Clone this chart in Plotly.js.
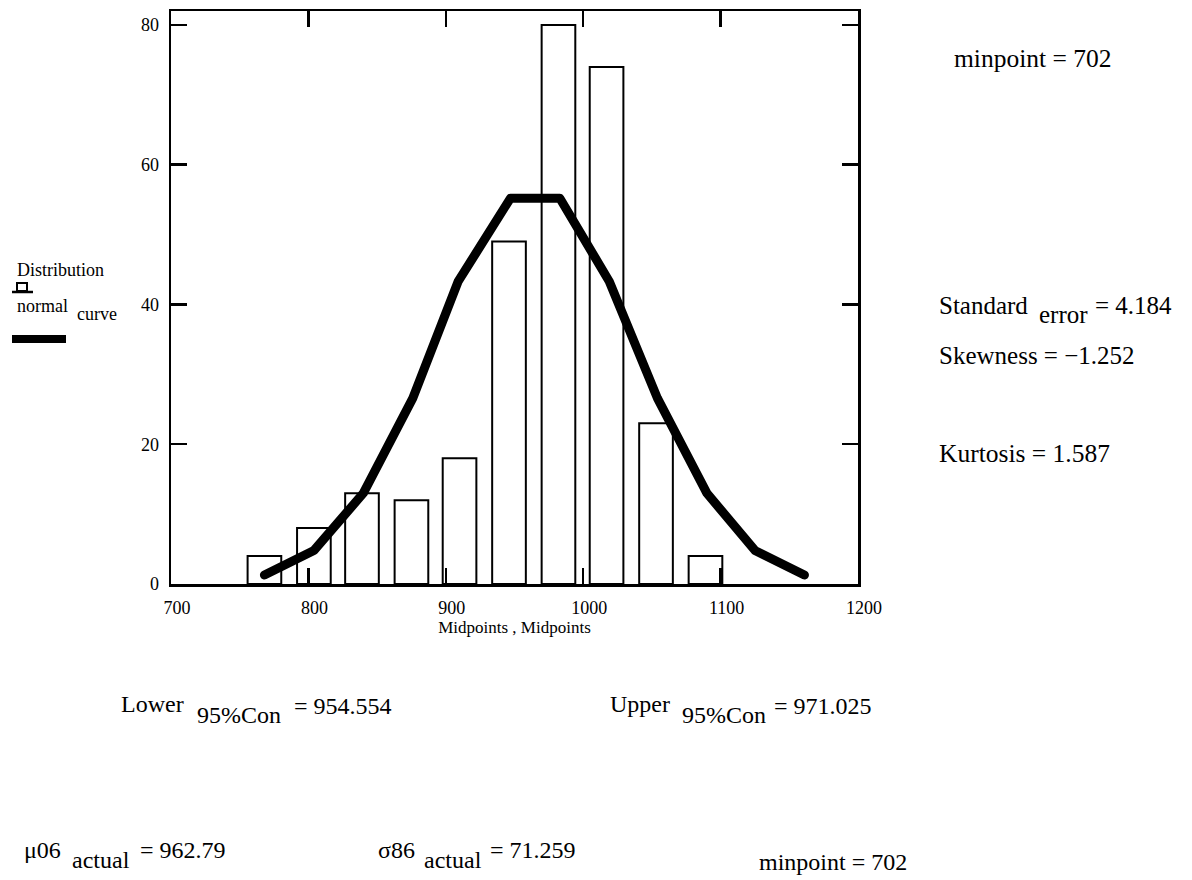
<!DOCTYPE html>
<html>
<head>
<meta charset="utf-8">
<script src="https://cdn.plot.ly/plotly-3.0.1.min.js"></script>
<style>
  html, body { margin: 0; padding: 0; background: #fff; }
  #chart { width: 1192px; height: 880px; }
  .scatterlayer .js-line { stroke-linecap: round; stroke-linejoin: round; }
</style>
</head>
<body>
<div id="chart"></div>
<script>
// Histogram of the measurements: bin midpoints and counts
const binMid   = [768, 804, 839, 875, 910, 946, 982, 1017, 1053, 1089];
const binCount = [4, 8, 13, 12, 18, 49, 80, 74, 23, 4];

// Fitted normal curve evaluated at the midpoints
const curveX = [768, 804, 840, 876, 909, 947, 983, 1019, 1054, 1090, 1125, 1161];
const curveY = [1.3, 4.8, 13, 26.6, 43.3, 55.2, 55.2, 43.3, 26.6, 13, 4.8, 1.3];

// Axis ticks
const xTicks = [700, 800, 900, 1000, 1100, 1200];
const yTicks = [0, 20, 40, 60, 80];

// Summary statistics printed around the plot
const stats = {
  minpoint: '702',
  stdError: '4.184',
  skewness: '1.252',
  kurtosis: '1.587',
  lower95: '954.554',
  upper95: '971.025',
  muActual: '962.79',
  sigmaActual: '71.259'
};

// plot-area frame in pixels
const L = 171, R = 858, T = 11, B = 584;
const px = x => (x - L) / (R - L);
const py = y => (B - y) / (B - T);

const SERIF = 'Liberation Serif, Times New Roman, serif';

function label(text, x, y, size) {
  return {
    xref: 'paper', yref: 'paper', x: px(x), y: py(y),
    xanchor: 'left', yanchor: 'middle', showarrow: false,
    text: text, font: { family: SERIF, size: size || 24, color: '#000' }
  };
}

const annotations = [
  // legend labels
  label('Distribution', 15, 270, 18),
  label('normal', 15, 306, 18),
  label('curve', 75, 314, 18),

  // right-hand statistics
  label('minpoint = ' + stats.minpoint, 952, 58, 25.5),
  label('Standard', 937, 305, 25),
  label('error', 1037, 314, 25),
  label('= ' + stats.stdError, 1093, 305, 25),
  label('Skewness = \u2212' + stats.skewness, 937, 355, 25),
  label('Kurtosis = ' + stats.kurtosis, 937, 453, 25.5),

  // confidence interval
  label('Lower', 119, 704),
  label('95%Con', 195, 715),
  label('= ' + stats.lower95, 292, 706),
  label('Upper', 608, 704),
  label('95%Con', 680, 715),
  label('= ' + stats.upper95, 772, 706),

  // actual mean / sigma
  label('\u03bc06', 22, 850),
  label('actual', 70, 860),
  label('= ' + stats.muActual, 138, 850),
  label('\u03c386', 376, 850),
  label('actual', 422, 860),
  label('= ' + stats.sigmaActual, 488, 850),
  label('minpoint = ' + stats.minpoint, 757, 862)
];

const shapes = [
  // bar legend glyph
  { type: 'rect', xref: 'paper', yref: 'paper', x0: px(17), x1: px(27), y0: py(291), y1: py(283),
    line: { color: '#000', width: 2 }, fillcolor: 'rgba(0,0,0,0)' },
  { type: 'line', xref: 'paper', yref: 'paper', x0: px(12), x1: px(33), y0: py(292), y1: py(292),
    line: { color: '#000', width: 2.5 } },
  // curve legend glyph
  { type: 'line', xref: 'paper', yref: 'paper', x0: px(12), x1: px(66), y0: py(339), y1: py(339),
    line: { color: '#000', width: 8 } }
];

const traces = [
  {
    type: 'bar', x: binMid, y: binCount, width: 24.5,
    marker: { color: '#fff', line: { color: '#000', width: 2 } },
    hoverinfo: 'x+y', showlegend: false
  },
  {
    type: 'scatter', mode: 'lines', x: curveX, y: curveY,
    line: { color: '#000', width: 9 },
    hoverinfo: 'x+y', showlegend: false
  }
];

const axisCommon = {
  showline: true, linecolor: '#000', linewidth: 2.5, mirror: 'ticks',
  ticks: 'inside', ticklen: 16, tickwidth: 2.5, tickcolor: '#000',
  showgrid: false, zeroline: false, fixedrange: true,
  tickfont: { family: SERIF, size: 18, color: '#000' }
};

const layout = {
  width: 1192, height: 880,
  margin: { l: L, r: 1192 - R, t: T, b: 880 - B, pad: 0 },
  paper_bgcolor: '#fff', plot_bgcolor: '#fff',
  showlegend: false,
  xaxis: Object.assign({}, axisCommon, {
    range: [700, 1200], tickvals: xTicks, ticktext: xTicks.map(String),
    ticklabelshift: 6, ticklabelstandoff: 6,
    title: { text: 'Midpoints , Midpoints', font: { family: SERIF, size: 17, color: '#000' }, standoff: 4 }
  }),
  yaxis: Object.assign({}, axisCommon, {
    range: [0, 82], tickvals: yTicks, ticktext: yTicks.map(String),
    ticklabelstandoff: 6
  }),
  annotations: annotations,
  shapes: shapes
};

Plotly.newPlot('chart', traces, layout, { displayModeBar: false, staticPlot: true });
</script>
</body>
</html>
